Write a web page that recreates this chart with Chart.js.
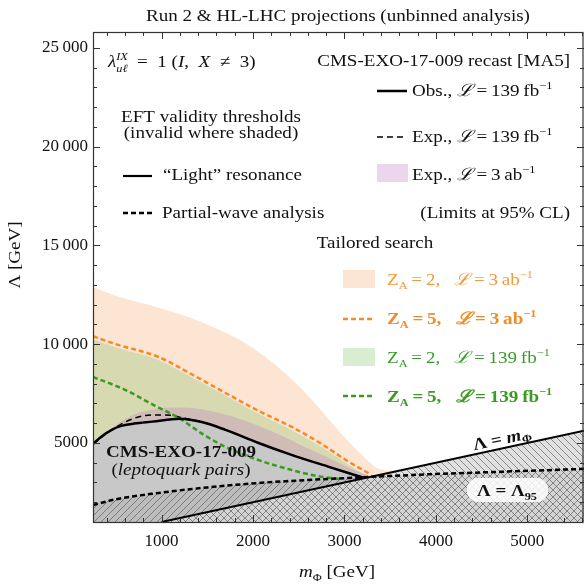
<!DOCTYPE html>
<html>
<head>
<meta charset="utf-8">
<script src="https://cdn.jsdelivr.net/npm/chart.js@4.4.1/dist/chart.umd.min.js"></script>
<style>
  html, body { margin: 0; padding: 0; background: #fff; }
  #chart { display: block; }
</style>
</head>
<body>
<canvas id="chart" width="584" height="584"></canvas>
<script>
// ---- data (m_Phi in GeV, Lambda in GeV) ----
const xTicks = [1000, 2000, 3000, 4000, 5000];
const xTickLabels = ["1000", "2000", "3000", "4000", "5000"];
const yTicks = [5000, 10000, 15000, 20000, 25000];
const yTickLabels = ["5000", "10\u2009000", "15\u2009000", "20\u2009000", "25\u2009000"];

const massPeach = [250, 500, 1000, 1500, 2000, 2500, 3000, 3200, 3350, 3550];
const lambdaPeach = [12900, 12450, 11800, 11000, 9800, 7900, 5300, 4350, 3750, 3550];

const massGreenBand = [250, 500, 967, 1300, 1700, 2050, 2424, 2750, 3015, 3250];
const lambdaGreenBand = [10250, 9850, 9200, 8400, 7400, 6500, 5650, 4800, 4000, 3300];

const massPurple = [250, 500, 700, 900, 1100, 1300, 1600, 1900, 2200, 2500, 2800, 3100, 3300];
const lambdaPurple = [4950, 5900, 6450, 6700, 6800, 6780, 6550, 6150, 5600, 4950, 4300, 3650, 3300];

const massObs = [250, 350, 450, 550, 700, 900, 1200, 1450, 1700, 2060, 2420, 2830, 3200];
const lambdaObs = [4950, 5350, 5650, 5850, 5980, 6080, 6230, 6050, 5660, 5000, 4400, 3790, 3250];

const massExp = [250, 500, 700, 900, 1100, 1250, 1450, 1700, 2060, 2420, 2830, 3200];
const lambdaExp = [4950, 5800, 6250, 6420, 6400, 6250, 6050, 5660, 5000, 4400, 3790, 3250];

const massOrange = [250, 500, 967, 1300, 1700, 2050, 2424, 2750, 3015, 3270];
const lambdaOrange = [10400, 10000, 9350, 8550, 7530, 6650, 5810, 4950, 4140, 3450];

const massGreen = [250, 606, 900, 1186, 1450, 1700, 2050, 2424, 2700, 2950];
const lambdaGreen = [8340, 7680, 6950, 6270, 5450, 4800, 4150, 3630, 3330, 3170];

const massL95 = [250, 500, 967, 1500, 2062, 2500, 3048, 3500, 4000, 4500, 5000, 5620];
const lambdaL95 = [1860, 2150, 2470, 2750, 2975, 3100, 3230, 3330, 3430, 3510, 3590, 3690];

const massDiag = [1000, 5620];
const lambdaDiag = [1000, 5620];

// ---- colours ----
const peachFill = "rgba(250, 180, 130, 0.35)";
const greenFill = "rgba(120, 190, 90, 0.28)";
const purpleFill = "rgba(190, 120, 200, 0.3)";
const obsGray = "#c8c8c8";
const orangeLine = "#f28c28";
const orangeText = "#f39a3b";
const greenLine = "#3b9b1e";
const greenText = "#3c9a2a";

const SERIF = '"Liberation Serif", "DejaVu Serif", serif';
const TEXT_SX = 1.12; // the picture's lettering is a little wider than Liberation Serif
function F(style, size) {
    return style + " " + size + "px " + SERIF;
}

function pts(xs, ys) {
    return xs.map(function (x, i) { return { x: x, y: ys[i] }; });
}

function hatch(dir, bg) {
    const c = document.createElement("canvas");
    c.width = 7;
    c.height = 7;
    const g = c.getContext("2d");
    if (bg) {
        g.fillStyle = bg;
        g.fillRect(0, 0, 7, 7);
    }
    g.strokeStyle = "rgba(80, 80, 80, 0.75)";
    g.lineWidth = 0.8;
    g.beginPath();
    if (dir > 0) {
        g.moveTo(-1, 8); g.lineTo(8, -1);
        g.moveTo(-1, 1); g.lineTo(1, -1);
        g.moveTo(6, 8); g.lineTo(8, 6);
    } else {
        g.moveTo(-1, -1); g.lineTo(8, 8);
        g.moveTo(6, -1); g.lineTo(8, 1);
        g.moveTo(-1, 6); g.lineTo(1, 8);
    }
    g.stroke();
    return g.createPattern(c, "repeat");
}

function fillSet(xs, ys, color, order) {
    return {
        data: pts(xs, ys),
        borderWidth: 0,
        pointRadius: 0,
        backgroundColor: color,
        fill: "start",
        cubicInterpolationMode: "monotone",
        order: order
    };
}

function lineSet(xs, ys, color, width, dash, order) {
    return {
        data: pts(xs, ys),
        borderColor: color,
        borderWidth: width,
        borderDash: dash,
        pointRadius: 0,
        fill: false,
        cubicInterpolationMode: "monotone",
        order: order
    };
}

// draws a run of [text, font, dy, advance] pieces, a bit stretched sideways
function rich(ctx, x, y, segs, align, color) {
    let total = 0;
    segs.forEach(function (s) {
        ctx.font = s[1];
        s.w = ctx.measureText(s[0]).width;
        if (s[3] !== 0) total += s.w;
    });
    let cx = 0;
    if (align === "center") cx = -total / 2;
    if (align === "right") cx = -total;
    ctx.save();
    ctx.translate(x, y);
    ctx.scale(TEXT_SX, 1);
    ctx.fillStyle = color || "#111";
    ctx.textAlign = "left";
    ctx.textBaseline = "alphabetic";
    segs.forEach(function (s) {
        ctx.font = s[1];
        ctx.fillText(s[0], cx, s[2] || 0);
        if (s[3] !== 0) cx += s.w;
    });
    ctx.restore();
}

function sample(ctx, x1, x2, y, color, width, dash) {
    ctx.save();
    ctx.strokeStyle = color;
    ctx.lineWidth = width;
    ctx.setLineDash(dash);
    ctx.beginPath();
    ctx.moveTo(x1, y);
    ctx.lineTo(x2, y);
    ctx.stroke();
    ctx.restore();
}

function swatch(ctx, x, y, w, h, color) {
    ctx.fillStyle = "#fff";
    ctx.fillRect(x, y, w, h);
    ctx.fillStyle = color;
    ctx.fillRect(x, y, w, h);
}

function lumi(style, value, unit) {
    return [
        ["\u2112", F("italic " + style, 17)],
        ["\u2009=\u2009" + value + "\u2009" + unit, F(style, 17)],
        ["\u22121", F(style, 11), -7]
    ];
}

const overlay = {
    id: "overlay",
    afterDraw: function (chart) {
        const ctx = chart.ctx;
        const a = chart.chartArea;
        const xs = chart.scales.x;
        const ys = chart.scales.y;
        ctx.save();

        // Lambda = Lambda_95 label box
        ctx.fillStyle = "rgba(255, 255, 255, 0.85)";
        ctx.beginPath();
        ctx.roundRect(467, 478, 81, 24, 11);
        ctx.fill();
        rich(ctx, 507, 496, [["\u039B = \u039B", F("bold", 17)], ["95", F("bold", 11), 4]], "center");

        // Lambda = m_Phi label along the line
        const p1x = xs.getPixelForValue(4000), p1y = ys.getPixelForValue(4000);
        const p2x = xs.getPixelForValue(5000), p2y = ys.getPixelForValue(5000);
        const ang = Math.atan2(p2y - p1y, p2x - p1x);
        const cx = xs.getPixelForValue(4745), cy = ys.getPixelForValue(4745);
        ctx.save();
        ctx.translate(cx + 9 * Math.sin(ang), cy - 9 * Math.cos(ang));
        ctx.rotate(ang);
        rich(ctx, 0, 5, [["\u039B = ", F("bold", 17)], ["m", F("italic bold", 17)], ["\u03A6", F("bold", 11), 3]], "center");
        ctx.restore();

        // CMS label inside excluded region
        rich(ctx, 181, 457, [["CMS-EXO-17-009", F("bold", 17)]], "center");
        rich(ctx, 181, 475, [["(", F("", 17)], ["leptoquark pairs", F("italic", 17)], [")", F("", 17)]], "center");

        // ticks on all four sides, pointing inward
        ctx.strokeStyle = "#333";
        ctx.lineWidth = 1;
        ctx.beginPath();
        for (let m = 400; m <= 5600; m += 200) {
            const px = Math.round(xs.getPixelForValue(m)) + 0.5;
            const len = xTicks.indexOf(m) >= 0 ? 7 : 4;
            ctx.moveTo(px, a.bottom); ctx.lineTo(px, a.bottom - len);
            ctx.moveTo(px, a.top); ctx.lineTo(px, a.top + len);
        }
        for (let l = 2000; l <= 25000; l += 1000) {
            const py = Math.round(ys.getPixelForValue(l)) + 0.5;
            const len = yTicks.indexOf(l) >= 0 ? 7 : 4;
            ctx.moveTo(a.left, py); ctx.lineTo(a.left + len, py);
            ctx.moveTo(a.right, py); ctx.lineTo(a.right - len, py);
        }
        ctx.stroke();
        ctx.lineWidth = 1.2;
        ctx.strokeRect(a.left + 0.5, a.top + 0.5, a.right - a.left - 1.5, a.bottom - a.top);

        // title and axis titles
        rich(ctx, 338, 21, [["Run 2 & HL-LHC projections (unbinned analysis)", F("", 17)]], "center");
        rich(ctx, 337, 577, [["m", F("italic", 17)], ["\u03A6", F("", 11), 4], [" [GeV]", F("", 17)]], "center");
        ctx.save();
        ctx.translate(20, 255);
        ctx.rotate(-Math.PI / 2);
        rich(ctx, 0, 0, [["\u039B [GeV]", F("", 17)]], "center");
        ctx.restore();

        // top-left coupling note
        rich(ctx, 108, 67, [
            ["\u03BB", F("italic", 17)],
            ["IX", F("italic", 11), -7, 0],
            ["u\u2113", F("italic", 11), 5],
            ["\u2002=\u20021 (", F("", 17)], ["I", F("italic", 17)], [",\u2002", F("", 17)],
            ["X", F("italic", 17)], ["\u2002\u2260\u20023)", F("", 17)]
        ], "left");

        // CMS recast legend
        rich(ctx, 570, 66, [["CMS-EXO-17-009 recast [MA5]", F("", 17)]], "right");
        sample(ctx, 377, 407, 91, "#000", 2.5, []);
        rich(ctx, 412, 96, [["Obs., ", F("", 17)]].concat(lumi("", "139", "fb")), "left");
        sample(ctx, 377, 407, 137, "#000", 1.5, [6, 4]);
        rich(ctx, 412, 142, [["Exp., ", F("", 17)]].concat(lumi("", "139", "fb")), "left");
        swatch(ctx, 377, 164, 31, 18, purpleFill);
        rich(ctx, 412, 180, [["Exp., ", F("", 17)]].concat(lumi("", "3", "ab")), "left");
        rich(ctx, 570, 218, [["(Limits at 95% CL)", F("", 17)]], "right");

        // EFT validity legend
        rich(ctx, 211, 122, [["EFT validity thresholds", F("", 17)]], "center");
        rich(ctx, 211, 138, [["(invalid where shaded)", F("", 17)]], "center");
        sample(ctx, 123, 152, 176, "#000", 2.2, []);
        rich(ctx, 163, 180, [["\u201CLight\u201D resonance", F("", 17)]], "left");
        sample(ctx, 123, 155, 213, "#000", 2.5, [5, 3]);
        rich(ctx, 162, 218, [["Partial-wave analysis", F("", 17)]], "left");

        // tailored search legend
        rich(ctx, 375, 248, [["Tailored search", F("", 17)]], "center");
        swatch(ctx, 343, 270, 32, 18, peachFill);
        rich(ctx, 387, 285, [["Z", F("", 17)], ["A", F("", 11), 4], ["\u2009=\u20092,\u2002 ", F("", 17)]].concat(lumi("", "3", "ab")), "left", orangeText);
        sample(ctx, 343, 373, 319, orangeLine, 2.5, [5, 3]);
        rich(ctx, 387, 324, [["Z", F("bold", 17)], ["A", F("bold", 11), 4], ["\u2009=\u20095,\u2002 ", F("bold", 17)]].concat(lumi("bold", "3", "ab")), "left", orangeLine);
        swatch(ctx, 343, 348, 32, 18, greenFill);
        rich(ctx, 387, 363, [["Z", F("", 17)], ["A", F("", 11), 4], ["\u2009=\u20092,\u2002 ", F("", 17)]].concat(lumi("", "139", "fb")), "left", greenText);
        sample(ctx, 343, 373, 396, greenLine, 2.5, [5, 3]);
        rich(ctx, 387, 402, [["Z", F("bold", 17)], ["A", F("bold", 11), 4], ["\u2009=\u20095,\u2002 ", F("bold", 17)]].concat(lumi("bold", "139", "fb")), "left", greenLine);

        ctx.restore();
    }
};

const datasets = [
    fillSet(massPeach, lambdaPeach, peachFill, 20),
    fillSet(massGreenBand, lambdaGreenBand, greenFill, 19),
    fillSet(massPurple, lambdaPurple, purpleFill, 18),
    fillSet(massObs, lambdaObs, obsGray, 17),
    fillSet(massDiag, lambdaDiag, hatch(-1, "#e0e0e0"), 16),
    fillSet(massL95, lambdaL95, hatch(1, "rgba(0, 0, 0, 0.05)"), 15),
    lineSet(massExp, lambdaExp, "#000", 1.5, [6, 4], 9),
    lineSet(massOrange, lambdaOrange, orangeLine, 2.5, [5, 3], 8),
    lineSet(massGreen, lambdaGreen, greenLine, 2.5, [5, 3], 7),
    lineSet(massObs, lambdaObs, "#000", 2.5, [], 6),
    lineSet(massL95, lambdaL95, "#000", 2.5, [5, 3], 5),
    lineSet(massDiag, lambdaDiag, "#000", 2, [], 4)
];

new Chart(document.getElementById("chart"), {
    type: "line",
    data: { datasets: datasets },
    options: {
        responsive: false,
        animation: false,
        devicePixelRatio: 1,
        layout: { padding: { top: 32, left: 0, right: 0, bottom: 0 } },
        plugins: {
            legend: { display: false },
            tooltip: { enabled: false },
            title: { display: false }
        },
        scales: {
            x: {
                type: "linear",
                min: 250,
                max: 5620,
                grid: { display: false, drawTicks: false },
                border: { display: false },
                afterBuildTicks: function (scale) {
                    scale.ticks = xTicks.map(function (v) { return { value: v }; });
                },
                afterFit: function (scale) { scale.height = 62; },
                ticks: {
                    padding: 9,
                    maxRotation: 0,
                    color: "#111",
                    font: { family: SERIF, size: 17 },
                    callback: function (v, i) { return xTickLabels[i]; }
                }
            },
            y: {
                type: "linear",
                min: 1000,
                max: 25800,
                grid: { display: false, drawTicks: false },
                border: { display: false },
                afterBuildTicks: function (scale) {
                    scale.ticks = yTicks.map(function (v) { return { value: v }; });
                },
                afterFit: function (scale) { scale.width = 93; },
                ticks: {
                    padding: 5,
                    color: "#111",
                    font: { family: SERIF, size: 17 },
                    callback: function (v, i) { return yTickLabels[i]; }
                }
            }
        }
    },
    plugins: [overlay]
});
</script>
</body>
</html>
